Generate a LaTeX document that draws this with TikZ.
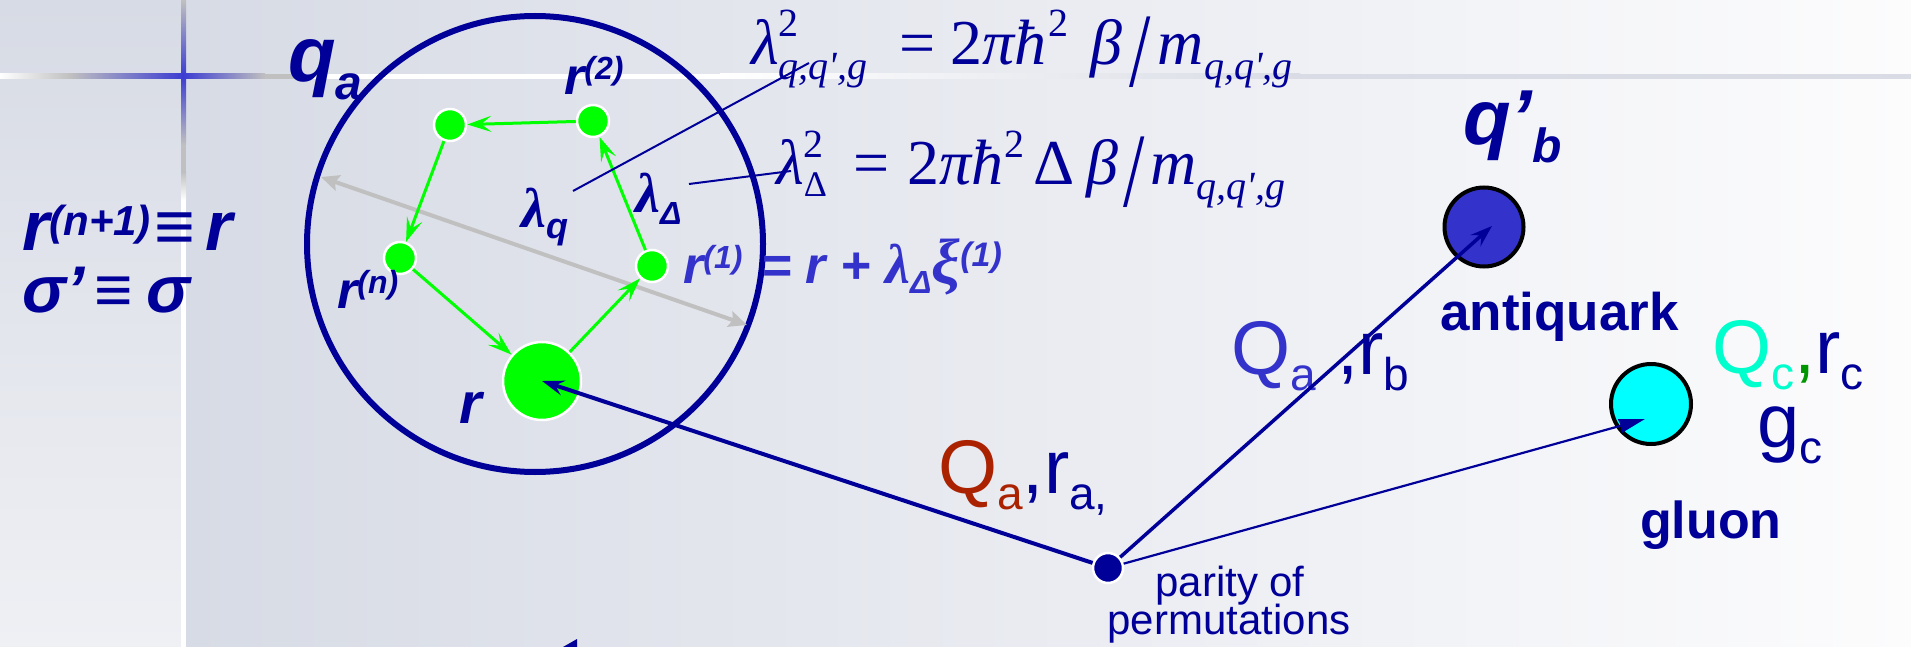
\documentclass[tikz,border=0pt]{standalone}
\usepackage{fontspec}
\setmainfont{Liberation Sans}
\newfontfamily\tms{Liberation Serif}
\usepackage{graphicx}
\usetikzlibrary{arrows.meta}
\definecolor{navy}{RGB}{0,0,153}
\definecolor{lblue}{RGB}{51,51,204}
\definecolor{brick}{RGB}{170,34,0}
\definecolor{aqua}{RGB}{0,255,204}
\definecolor{dgreen}{RGB}{0,150,0}
\definecolor{gfill}{RGB}{0,255,0}
\definecolor{cyanfill}{RGB}{0,255,255}
\definecolor{bgl}{RGB}{215,219,229}
\definecolor{bgr}{RGB}{252,252,253}
\definecolor{grayln}{RGB}{192,192,192}
\definecolor{crossblue}{RGB}{60,60,210}
\definecolor{stripbot}{RGB}{239,240,244}
\definecolor{hlgray}{RGB}{217,220,229}
\newcommand\subx[3]{\raisebox{-#1pt}{\fontsize{#2}{#2}\selectfont #3}}
\newcommand\supx[3]{\raisebox{#1pt}{\fontsize{#2}{#2}\selectfont #3}}
\newcommand\fsize[1]{\fontsize{#1}{#1}\selectfont}
\newcommand\bigsl{\raisebox{-22pt}{\scalebox{1.2}[1.65]{\upshape /}}}
\begin{document}
\begin{tikzpicture}[x=1pt,y=-1pt,
  lbl/.style={inner sep=0pt, anchor=base west},
  bi/.style={font=\fsize{#1}\bfseries\itshape},
  gdot/.style={circle, fill=gfill, draw=white, line width=2.5pt, minimum size=32pt, inner sep=0pt},
  bigdot/.style={circle, fill=gfill, draw=white, line width=2.5pt, minimum size=78pt, inner sep=0pt},
  garrow/.style={draw=gfill, line width=3pt, -{Stealth[length=24pt,width=16pt,inset=10pt]}},
  grarrow/.style={draw=grayln, line width=4pt, {Stealth[length=18pt,width=16pt,inset=3pt]}-{Stealth[length=18pt,width=16pt,inset=3pt]}},
  narrow/.style={draw=navy, -{Stealth[length=22pt,width=15pt,inset=8pt]}},
  thinline/.style={draw=navy, line width=2pt}]
\useasboundingbox (0,0) rectangle (1911,647);
% background
\shade[left color=bgl, right color=bgr] (183,0) rectangle (1911,647);
\shade[top color=bgl, bottom color=stripbot] (0,0) rectangle (183,647);
% vertical divider
\shade[top color=grayln, bottom color=crossblue] (181,0) rectangle (186,76);
\shade[top color=crossblue, bottom color=grayln] (181,76) rectangle (186,145);
\fill[grayln] (181,145) rectangle (186,172);
\shade[top color=grayln, bottom color=white] (181,172) rectangle (186,200);
\fill[white] (181,200) rectangle (186,647);
% horizontal line
\shade[left color=white, right color=grayln] (0,74) rectangle (70,79);
\shade[left color=grayln, right color=crossblue] (70,74) rectangle (183,79);
\shade[left color=crossblue, right color=grayln] (183,74) rectangle (265,79);
\fill[grayln] (265,74) rectangle (300,79);
\fill[white] (300,74) rectangle (720,79);
\shade[left color=white, right color=hlgray] (720,74) rectangle (1300,79);
\fill[hlgray] (1300,74) rectangle (1911,79);
% bottom glyph fragment
\fill[navy] (563,647) -- (577,639) -- (577,647) -- cycle;

% big circle
\node[circle, draw=navy, line width=6pt, minimum size=456pt, inner sep=0pt] (qcirc) at (535,244) {};

% gray double arrow
\coordinate (ga) at (321,177);
\coordinate (gb) at (747,325);
\draw[grarrow] (ga) -- (gb);

% green dots
\node[gdot] (d1) at (652,266) {};
\node[gdot] (d2) at (593,121) {};
\node[gdot] (d3) at (450,125) {};
\node[gdot] (dn) at (400,258) {};
\node[bigdot] (r0) at (542,381) {};
\draw[garrow] (d2) -- (d3);
\draw[garrow] (d3) -- (dn);
\draw[garrow] (dn) -- (r0);
\draw[garrow] (r0) -- (d1);
\draw[garrow] (d1) -- (d2);

% lambda leader lines
\coordinate (lqa) at (573,191);
\coordinate (lqb) at (809,63);
\coordinate (lda) at (689,184);
\coordinate (ldb) at (791,171);
\draw[thinline] (lqa) -- (lqb);
\draw[thinline] (lda) -- (ldb);

% left labels
\node[lbl, bi=78, text=navy] (qa) at (288,82) {q\subx{18}{48}{a}};
\node[lbl, bi=70, text=navy] (rn1) at (22,250) {r\supx{15}{42}{(n+1)}\hspace{4pt}≡\hspace{10pt}r};
\node[lbl, bi=66, text=navy] (sig) at (22,312) {σ’\hspace{10pt}≡\hspace{14pt}σ};
\node[lbl, bi=52, text=navy] (r2l) at (564,95) {r\supx{15}{32}{(2)}};
\node[lbl, bi=52, text=navy] (rnl) at (337,308) {r\supx{15}{32}{(n)}};
\node[lbl, bi=52, text=lblue] (r1l) at (683,283) {r\supx{15}{32}{(1)}\hspace{4pt} = r + {\tms\fsize{56}λ}\subx{10}{32}{Δ}{\tms\fsize{64}ξ}\supx{17}{34}{(1)}};
\node[lbl, bi=58, text=navy] (rl) at (459,423) {r};
\node[lbl, bi=52, text=navy] (lq) at (521,228) {{\tms\fsize{56}λ}\subx{11}{36}{q}};
\node[lbl, bi=52, text=navy] (ld) at (635,212) {{\tms\fsize{56}λ}\subx{13}{32}{Δ}};

% formulas
\node[lbl, text=navy, font=\tms\itshape\fsize{64}] (f1) at (751,65)
  {λ\rlap{\supx{28}{40}{\upshape 2}}\subx{15}{40}{q,q\textquotesingle,g}\hspace{32pt}{\upshape =}\hspace{15pt}{\upshape 2}πħ\hspace{2pt}\supx{28}{40}{\upshape 2}\hspace{22pt}β\hspace{7pt}\bigsl\hspace{7pt}m\subx{15}{40}{q,q\textquotesingle,g}};
\node[lbl, text=navy, font=\tms\itshape\fsize{64}] (f2) at (776,185)
  {λ\rlap{\supx{27}{40}{\upshape 2}}\subx{12}{36}{\upshape Δ}\hspace{26pt}{\upshape =}\hspace{18pt}{\upshape 2}πħ\hspace{1pt}\supx{27}{40}{\upshape 2}\hspace{9pt}{\upshape Δ}\hspace{12pt}β\hspace{5pt}\bigsl\hspace{6pt}m\subx{15}{40}{q,q\textquotesingle,g}};

% right side particles
\node[circle, fill=lblue, draw=black, line width=4pt, minimum size=79pt, inner sep=0pt] (aq) at (1484,227) {};
\node[circle, fill=cyanfill, draw=black, line width=4pt, minimum size=80pt, inner sep=0pt] (gl) at (1651,404) {};
\node[circle, fill=navy, draw=white, line width=2.5pt, minimum size=30pt, inner sep=0pt] (par) at (1108,568) {};

\node[lbl, bi=78, text=navy] (qb) at (1463,145) {q’\subx{18}{48}{b}};
\node[lbl, font=\fsize{53}\bfseries, text=navy] (aqt) at (1440,330) {antiquark};
\node[lbl, font=\fsize{52}\bfseries, text=navy] (glt) at (1640,538) {gluon};
\node[lbl, font=\fsize{76}, text=navy] (qcrc) at (1712,373) {{\color{aqua}Q\subx{16}{46}{c}}{\color{dgreen},}r\subx{16}{46}{c}};
\node[lbl, font=\fsize{76}, text=navy] (gc) at (1757,447) {g\subx{16}{46}{c}};
\node[lbl, font=\fsize{76}, text=navy] (qarb) at (1231,374) {{\color{lblue}Q\subx{16}{46}{a}} ,r\subx{16}{46}{b}};
\node[lbl, font=\fsize{76}, text=navy] (qara) at (938,493) {{\color{brick}Q\subx{16}{46}{a}},r\subx{16}{46}{a,}};
\node[inner sep=0pt, anchor=base, font=\fsize{42}, text=navy] (par1) at (1230,596) {parity of};
\node[inner sep=0pt, anchor=base, font=\fsize{42}, text=navy] (par2) at (1229,634) {permutations};

% connectors from the parity point
\coordinate (aqtip) at (1492,226);
\coordinate (gltip) at (1645,419);
\draw[narrow, line width=4pt] (par) -- (r0.center);
\draw[narrow, line width=3.5pt] (par) -- (aqtip);
\draw[draw=navy, line width=2.2pt, -{Stealth[length=26pt,width=14pt,inset=1pt]}] (par) -- (gltip);
\end{tikzpicture}
\end{document}
